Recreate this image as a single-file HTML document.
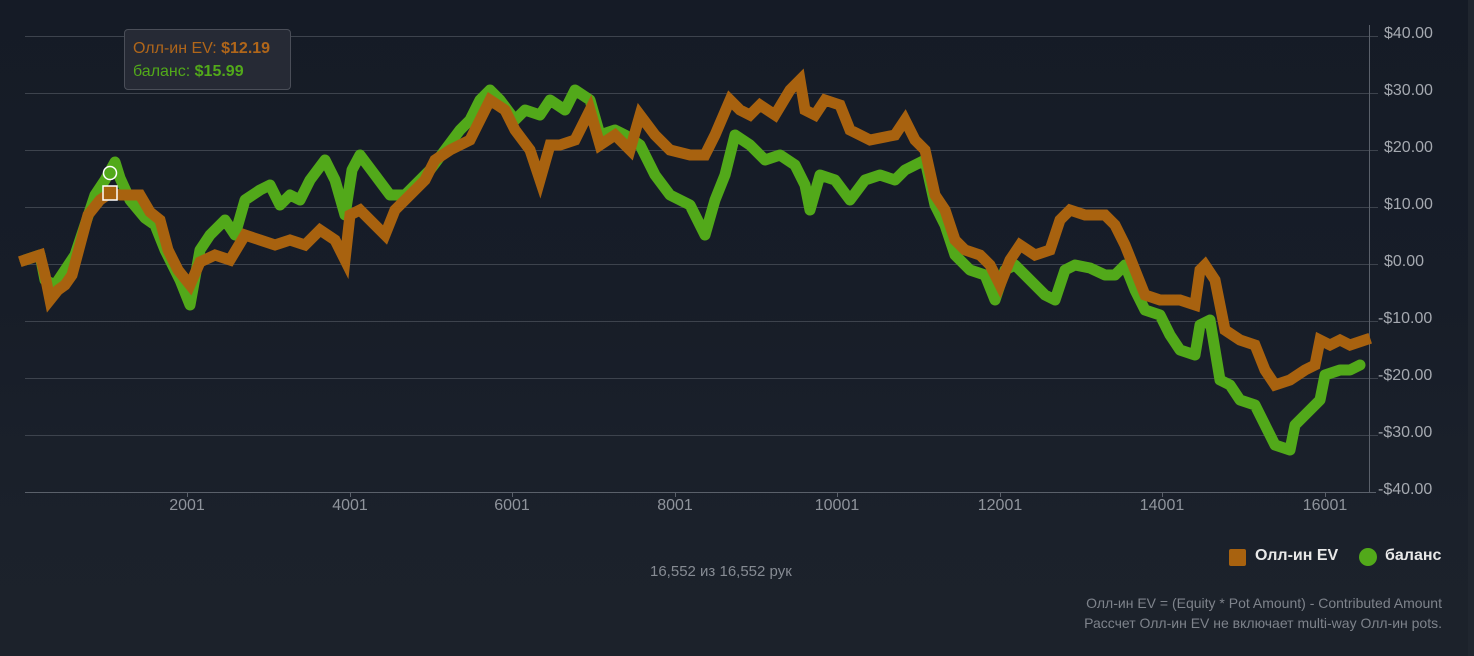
<!DOCTYPE html>
<html><head><meta charset="utf-8"><style>
body{margin:0;width:1474px;height:656px;background:linear-gradient(#151b26 0px,#171d28 300px,#1b212b 520px,#1c222b 656px);font-family:"Liberation Sans","DejaVu Sans",sans-serif;overflow:hidden;position:relative}
.strip{position:absolute;left:1468px;top:0;width:6px;height:656px;background:#20262f}
.yl{position:absolute;left:1384px;font-size:16px;color:#a5a9b0}
.xl{position:absolute;top:497px;font-size:16px;color:#8f949c;width:60px;text-align:center}
.tt{position:absolute;left:124px;top:29px;width:167px;height:61px;background:#262a35;border:1px solid #4a4e58;border-radius:4px;font-size:16px;line-height:23px;box-sizing:border-box;padding:7px 8px}
</style></head><body>
<div class="strip"></div>
<svg width="1474" height="656" style="position:absolute;left:0;top:0">
<g stroke="#3d434d" stroke-width="1">
<line x1="25" x2="1378" y1="36.5" y2="36.5"/><line x1="25" x2="1378" y1="93.5" y2="93.5"/><line x1="25" x2="1378" y1="150.5" y2="150.5"/><line x1="25" x2="1378" y1="207.5" y2="207.5"/><line x1="25" x2="1378" y1="264.5" y2="264.5"/><line x1="25" x2="1378" y1="321.5" y2="321.5"/><line x1="25" x2="1378" y1="378.5" y2="378.5"/><line x1="25" x2="1378" y1="435.5" y2="435.5"/>
</g>
<line x1="25" x2="1376" y1="492.5" y2="492.5" stroke="#5a606a"/>
<line x1="1369.5" x2="1369.5" y1="25" y2="492" stroke="#5a606a"/>
<g stroke="#5a606a"><line x1="187.5" x2="187.5" y1="492" y2="497"/><line x1="350.5" x2="350.5" y1="492" y2="497"/><line x1="512.5" x2="512.5" y1="492" y2="497"/><line x1="675.5" x2="675.5" y1="492" y2="497"/><line x1="837.5" x2="837.5" y1="492" y2="497"/><line x1="1000.5" x2="1000.5" y1="492" y2="497"/><line x1="1162.5" x2="1162.5" y1="492" y2="497"/><line x1="1325.5" x2="1325.5" y1="492" y2="497"/></g>
<polyline fill="none" stroke="#52a91a" stroke-width="11" stroke-linejoin="round" stroke-linecap="round" points="25,260 40,255 45,280 55,285 65,270 75,255 85,225 95,195 105,180 115,162 120,178 130,200 145,218 155,225 165,250 180,280 190,305 200,250 210,235 225,220 235,235 245,200 260,190 270,185 280,205 290,195 300,200 310,180 325,160 335,180 345,215 352,170 360,155 375,175 390,195 405,195 415,185 430,170 445,150 460,130 470,120 480,100 490,90 500,100 515,120 525,110 540,115 550,100 565,110 575,90 590,100 600,135 615,130 625,135 640,145 655,175 670,195 690,205 705,235 715,200 725,175 735,135 750,145 765,160 780,155 795,165 805,185 810,210 820,175 835,180 850,200 865,180 880,175 895,180 905,170 915,165 925,160 935,205 945,225 955,255 970,270 985,275 995,300 1005,270 1015,265 1030,280 1045,295 1055,300 1065,270 1075,265 1090,268 1105,275 1115,275 1125,265 1135,290 1145,310 1160,315 1170,335 1180,350 1195,355 1200,325 1210,320 1220,380 1230,385 1240,400 1255,405 1265,425 1275,445 1290,450 1295,425 1310,410 1320,400 1325,375 1340,370 1350,370 1360,365"/>
<polyline fill="none" stroke="#a8620f" stroke-width="11" stroke-linejoin="miter" stroke-linecap="square" points="25,260 40,255 45,275 50,300 58,290 65,285 72,275 80,245 88,215 100,200 110,193 120,195 140,195 150,212 160,220 168,250 178,270 190,285 200,262 215,255 230,260 245,235 260,240 275,245 290,240 305,245 320,230 335,240 345,260 350,215 360,210 375,225 385,235 395,210 410,195 425,180 435,160 450,150 470,140 480,120 490,100 505,110 515,130 530,150 540,180 550,145 560,145 575,140 590,110 600,145 615,135 630,150 640,115 655,135 670,150 690,155 705,155 715,135 730,100 740,110 750,115 760,105 775,115 790,90 800,80 805,110 815,115 825,100 840,105 850,130 870,140 895,135 905,120 915,140 925,150 935,195 945,210 955,240 965,250 980,255 990,265 1000,285 1010,260 1020,245 1035,255 1050,250 1060,220 1070,210 1085,215 1095,215 1105,215 1115,225 1125,245 1135,270 1145,295 1160,300 1180,300 1195,305 1200,270 1205,265 1215,280 1225,330 1240,340 1255,345 1265,370 1275,385 1290,380 1305,370 1315,365 1320,340 1330,345 1340,340 1350,345 1365,340"/>
<circle cx="110" cy="173" r="6.5" fill="#52a91a" stroke="#fff" stroke-width="1.5"/>
<rect x="103" y="186" width="14" height="14" fill="#a8620f" stroke="#fff" stroke-width="1.5"/>
<rect x="1229" y="549" width="17" height="17" rx="2" fill="#a8620f"/>
<circle cx="1368" cy="557" r="9" fill="#52a91a"/>
</svg>
<div class="yl" style="top:25px">$40.00</div><div class="yl" style="top:82px">$30.00</div><div class="yl" style="top:139px">$20.00</div><div class="yl" style="top:196px">$10.00</div><div class="yl" style="top:253px">$0.00</div><div class="yl" style="top:310px;left:1378px">-$10.00</div><div class="yl" style="top:367px;left:1378px">-$20.00</div><div class="yl" style="top:424px;left:1378px">-$30.00</div><div class="yl" style="top:481px;left:1378px">-$40.00</div>
<div class="xl" style="left:157px">2001</div><div class="xl" style="left:320px">4001</div><div class="xl" style="left:482px">6001</div><div class="xl" style="left:645px">8001</div><div class="xl" style="left:807px">10001</div><div class="xl" style="left:970px">12001</div><div class="xl" style="left:1132px">14001</div><div class="xl" style="left:1295px">16001</div>
<div class="tt"><span style="color:#b0661a">Олл-ин EV: <b>$12.19</b></span><br><span style="color:#52a91a">баланс: <b>$15.99</b></span></div>
<div style="position:absolute;left:1255px;top:547px;font-size:16px;font-weight:bold;color:#e8e8e8">Олл-ин EV</div>
<div style="position:absolute;left:1385px;top:547px;font-size:16px;font-weight:bold;color:#e8e8e8">баланс</div>
<div style="position:absolute;left:650px;top:563px;font-size:15px;color:#868b93">16,552 из 16,552 рук</div>
<div style="position:absolute;right:32px;top:593px;font-size:14px;line-height:20px;color:#7e838b;text-align:right">Олл-ин EV = (Equity * Pot Amount) - Contributed Amount<br>Рассчет Олл-ин EV не включает multi-way Олл-ин pots.</div>
</body></html>
